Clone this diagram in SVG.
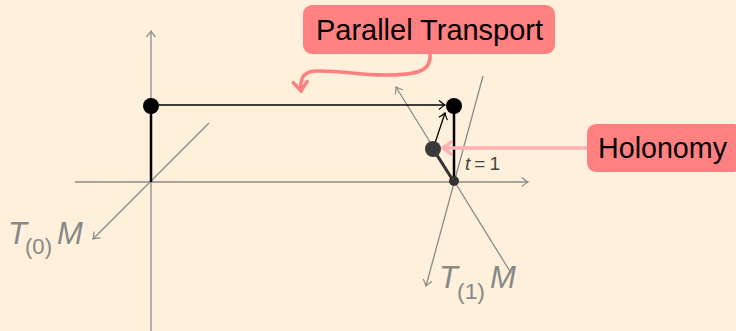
<svg xmlns="http://www.w3.org/2000/svg" width="736" height="331" viewBox="0 0 736 331">
<defs>
<marker id="ga" viewBox="-8 -6 10 12" markerWidth="10" markerHeight="12" refX="0" refY="0" orient="auto" markerUnits="userSpaceOnUse">
<path d="M-6,-4.5 Q-2,-1 0,0 Q-2,1 -6,4.5" fill="none" stroke="#8a8a8a" stroke-width="1.2"/>
</marker>
<marker id="ba" viewBox="-8 -6 10 12" markerWidth="10" markerHeight="12" refX="0" refY="0" orient="auto" markerUnits="userSpaceOnUse">
<path d="M-6,-4.5 Q-2,-1 0,0 Q-2,1 -6,4.5" fill="none" stroke="#000" stroke-width="1.2"/>
</marker>
<marker id="pa" viewBox="-12 -10 14 20" markerWidth="14" markerHeight="20" refX="0" refY="0" orient="auto" markerUnits="userSpaceOnUse">
<path d="M-9,-7 Q-3,-2 0,0 Q-3,2 -9,7" fill="none" stroke="#ff8080" stroke-width="3.5" stroke-linecap="round"/>
</marker>
<marker id="ha" viewBox="-12 -10 14 20" markerWidth="14" markerHeight="20" refX="0" refY="0" orient="auto" markerUnits="userSpaceOnUse">
<path d="M-8,-6 Q-3,-2 0,0 Q-3,2 -8,6" fill="none" stroke="#ffb0b0" stroke-width="3.5" stroke-linecap="round"/>
</marker>
</defs>
<style>
.ax{stroke:#8a8a8a;stroke-width:1.3;fill:none}
.lbl{font-family:"Liberation Sans","DejaVu Sans",sans-serif;fill:#888;font-size:31px;font-style:italic}
.sub{font-family:"Liberation Sans","DejaVu Sans",sans-serif;fill:#888;font-size:22px}
.box{fill:#ff8080}
.bt{font-family:"Liberation Sans","DejaVu Sans",sans-serif;font-size:29px;fill:#000}
</style>
<rect width="736" height="331" fill="#fef0db"/>
<g id="connectors">
<line class="ax" x1="151" y1="331" x2="151" y2="31" marker-end="url(#ga)"/>
<line class="ax" x1="75" y1="182" x2="528" y2="182" marker-end="url(#ga)"/>
<line class="ax" x1="209" y1="123" x2="93" y2="239" marker-end="url(#ga)"/>
<line class="ax" x1="483" y1="76" x2="426" y2="286" marker-end="url(#ga)"/>
<line class="ax" x1="511" y1="273" x2="396" y2="87" marker-end="url(#ga)"/>
<line x1="151" y1="106" x2="151" y2="182" stroke="#000" stroke-width="2.5"/>
<line x1="454" y1="106" x2="454" y2="182" stroke="#000" stroke-width="2.5"/>
<line x1="151" y1="105" x2="445" y2="105" stroke="#000" stroke-width="1.3" marker-end="url(#ba)"/>
<line x1="433" y1="149" x2="454" y2="182" stroke="#333" stroke-width="3"/>
<line x1="434" y1="146" x2="445" y2="113" stroke="#000" stroke-width="1.3" marker-end="url(#ba)"/>
<path d="M430,54 C432,72 415,75 385,75 C355,75 340,70 315,71 C302,72 300,80 301,91" fill="none" stroke="#ff8080" stroke-width="3.5" stroke-linecap="round" marker-end="url(#pa)"/>
<line x1="588" y1="148" x2="443" y2="148" stroke="#ffb0b0" stroke-width="3.5" marker-end="url(#ha)"/>
</g>
<g id="p0"><circle cx="151" cy="106" r="8" fill="#000"/></g>
<g id="p1"><circle cx="454" cy="106" r="8" fill="#000"/></g>
<g id="h"><circle cx="433" cy="149" r="8" fill="#3a3a3a"/></g>
<g id="o1"><circle cx="454" cy="181" r="5" fill="#333"/></g>
<g id="t1"><text x="465" y="170" font-family="Liberation Sans,DejaVu Sans,sans-serif" font-size="19" fill="#444" textLength="35" lengthAdjust="spacing"><tspan font-style="italic">t</tspan>=1</text></g>
<g id="T0"><text class="lbl" x="8" y="244">T</text><text class="sub" x="25" y="254" textLength="27" lengthAdjust="spacingAndGlyphs">(0)</text><text class="lbl" x="57" y="244">M</text></g>
<g id="T1"><text class="lbl" x="439" y="288">T</text><text class="sub" x="457" y="299" textLength="28" lengthAdjust="spacingAndGlyphs">(1)</text><text class="lbl" x="490" y="288">M</text></g>
<g id="pt"><rect class="box" x="303" y="5" width="252" height="49" rx="9"/><text class="bt" x="316" y="40" textLength="227" lengthAdjust="spacingAndGlyphs">Parallel Transport</text></g>
<g id="hol"><rect class="box" x="587" y="124" width="155" height="48" rx="9"/><text class="bt" x="598" y="158" textLength="129" lengthAdjust="spacingAndGlyphs">Holonomy</text></g>
</svg>
